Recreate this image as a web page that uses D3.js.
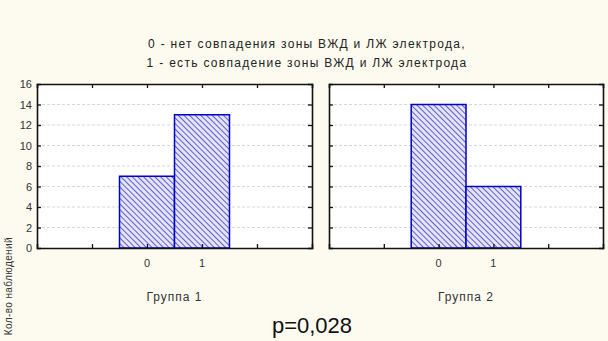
<!DOCTYPE html>
<html>
<head>
<meta charset="utf-8" />
<title>histogram</title>
<script src="https://d3js.org/d3.v7.min.js"></script>
<style>
  body { margin: 0; background: #fdfbf0; }
  svg { display: block; font-family: Arial, "Liberation Sans", sans-serif; }
</style>
</head>
<body>
<svg id="chart" width="608" height="341"></svg>
<script>
// data
var categories = [0, 1];
var group1 = [7, 13];
var group2 = [14, 6];
var groupNames = ["Группа 1", "Группа 2"];
var yTicks = [0, 2, 4, 6, 8, 10, 12, 14, 16];
var xTicks = [-1, 0, 1, 2];
var titleLines = ["0 - нет совпадения зоны ВЖД и ЛЖ электрода,",
                  "1 - есть совпадение зоны ВЖД и ЛЖ электрода"];
var pText = "p=0,028";
var yLabel = "Кол-во наблюдений";

var svg = d3.select("#chart");

// hatch pattern for the bars
var defs = svg.append("defs");
var pat = defs.append("pattern")
    .attr("id", "hatch")
    .attr("patternUnits", "userSpaceOnUse")
    .attr("width", 4).attr("height", 4)
    .attr("patternTransform", "rotate(-45)");
pat.append("rect").attr("width", 4).attr("height", 4).attr("fill", "#e4e4f6");
pat.append("line").attr("x1", 0).attr("y1", 0).attr("x2", 0).attr("y2", 4)
    .attr("stroke", "#3a3acc").attr("stroke-width", 1.6);

var y = d3.scaleLinear().domain([0, 16]).range([248, 84]);

var panels = [
    { values: group1, name: groupNames[0], x0: 37, x1: 312 },
    { values: group2, name: groupNames[1], x0: 329, x1: 603 }
];

// titles
svg.selectAll(".title").data(titleLines).enter().append("text")
    .attr("x", 307).attr("y", function(d, i) { return 48 + i * 19; })
    .attr("text-anchor", "middle")
    .attr("font-size", 12).attr("letter-spacing", 1.3).attr("fill", "#222")
    .text(function(d) { return d; });

panels.forEach(function(p, pi) {
    var x = d3.scaleLinear().domain([-2, 3]).range([p.x0, p.x1]);
    var g = svg.append("g");

    g.append("rect")
        .attr("x", p.x0).attr("y", y(16))
        .attr("width", p.x1 - p.x0).attr("height", y(0) - y(16))
        .attr("fill", "#fff");

    // grid
    g.selectAll(".grid").data(yTicks.slice(1, -1)).enter().append("line")
        .attr("x1", p.x0).attr("x2", p.x1)
        .attr("y1", function(d) { return y(d); }).attr("y2", function(d) { return y(d); })
        .attr("stroke", "#d8d8d8").attr("stroke-dasharray", "3,2");

    // bars
    g.selectAll(".bar").data(p.values).enter().append("rect")
        .attr("x", function(d, i) { return x(categories[i] - 0.5); })
        .attr("width", function(d, i) { return x(categories[i] + 0.5) - x(categories[i] - 0.5); })
        .attr("y", function(d) { return y(d); })
        .attr("height", function(d) { return y(0) - y(d); })
        .attr("fill", "url(#hatch)")
        .attr("stroke", "#0000cc").attr("stroke-width", 1.5);

    // axes with inward ticks
    var frame = [
        d3.axisBottom(x).tickValues(xTicks).tickSize(-4).tickFormat(""),
        d3.axisTop(x).tickValues(xTicks).tickSize(-4).tickFormat(""),
        d3.axisLeft(y).tickValues(yTicks.slice(1, -1)).tickSize(-4).tickFormat(""),
        d3.axisRight(y).tickValues(yTicks.slice(1, -1)).tickSize(-4).tickFormat("")
    ];
    var pos = ["translate(0," + y(0) + ")", "translate(0," + y(16) + ")",
               "translate(" + p.x0 + ",0)", "translate(" + p.x1 + ",0)"];
    frame.forEach(function(ax, k) {
        var a = g.append("g").attr("transform", pos[k]).call(ax);
        a.select(".domain").attr("stroke", "#111").attr("stroke-width", 1.6);
        a.selectAll(".tick line").attr("stroke", "#111").attr("stroke-width", 1.3);
    });

    // category labels
    g.selectAll(".xl").data(categories).enter().append("text")
        .attr("x", function(d) { return x(d); }).attr("y", 267)
        .attr("text-anchor", "middle").attr("font-size", 11).attr("fill", "#333")
        .text(function(d) { return d; });

    g.append("text")
        .attr("x", (p.x0 + p.x1) / 2).attr("y", 301)
        .attr("text-anchor", "middle").attr("font-size", 12).attr("letter-spacing", 1)
        .attr("fill", "#333")
        .text(p.name);

    if (pi === 0) {
        g.selectAll(".yl").data(yTicks).enter().append("text")
            .attr("x", 32).attr("y", function(d) { return y(d) + 4; })
            .attr("text-anchor", "end").attr("font-size", 11).attr("fill", "#333")
            .text(function(d) { return d; });
    }
});

svg.append("text")
    .attr("x", 312).attr("y", 333)
    .attr("text-anchor", "middle").attr("font-size", 22).attr("fill", "#111")
    .text(pText);

// y label along the lower left edge
svg.append("text")
    .attr("transform", "translate(12,237) rotate(-90)")
    .attr("text-anchor", "end").attr("font-size", 10).attr("letter-spacing", 0.4)
    .attr("fill", "#333")
    .text(yLabel);
</script>
</body>
</html>
